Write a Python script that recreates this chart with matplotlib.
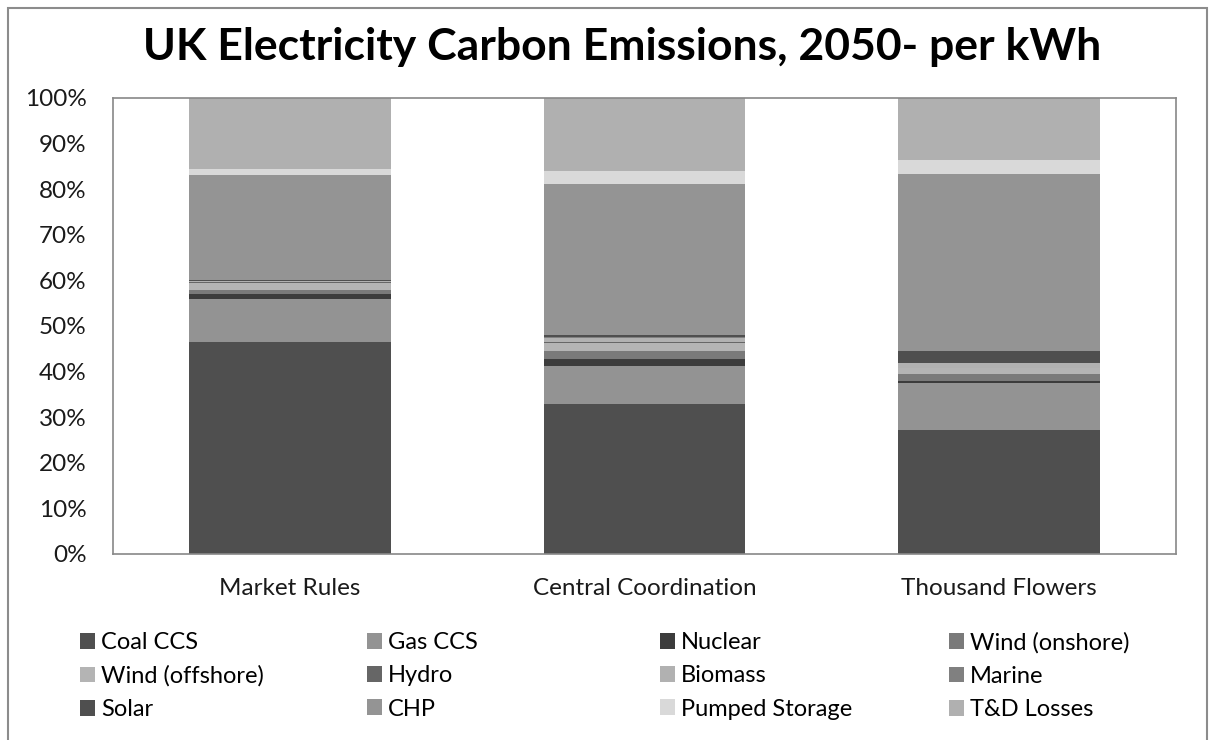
import matplotlib
matplotlib.use('Agg')
import matplotlib.pyplot as plt
from matplotlib.patches import Patch, Rectangle

plt.rcParams['font.family'] = ['Lato', 'DejaVu Sans']

scenarios = ['Market Rules', 'Central Coordination', 'Thousand Flowers']
sources = ['Coal CCS', 'Gas CCS', 'Nuclear', 'Wind (onshore)',
           'Wind (offshore)', 'Hydro', 'Biomass', 'Marine',
           'Solar', 'CHP', 'Pumped Storage', 'T&D Losses']

# share of emissions in %, one list per source (Market, Central, Thousand)
coal_ccs = [46.4, 33.0, 27.1]
gas_ccs = [9.5, 8.2, 10.5]
nuclear = [1.1, 1.6, 0.3]
wind_on = [0.9, 1.7, 1.5]
wind_off = [1.6, 1.8, 1.3]
hydro = [0.1, 0.2, 0.1]
biomass = [0.2, 0.8, 1.0]
marine = [0.1, 0.2, 0.0]
solar = [0.1, 0.5, 2.7]
chp = [23.2, 33.1, 38.9]
pumped = [1.2, 2.9, 3.1]
td_losses = [15.6, 16.0, 13.5]

series = [coal_ccs, gas_ccs, nuclear, wind_on, wind_off, hydro,
          biomass, marine, solar, chp, pumped, td_losses]
colors = ['#4f4f4f', '#939393', '#3c3c3c', '#7a7a7a', '#b4b4b4', '#666666',
          '#b1b1b1', '#808080', '#4f4f4f', '#949494', '#d9d9d9', '#b0b0b0']

fig = plt.figure(figsize=(12.1, 7.4), dpi=100)
ax = fig.add_axes([113/1210, 1-554/740, (1176-113)/1210, (554-98)/740])

x = list(range(len(scenarios)))
bottom = [0, 0, 0]
for vals, c in zip(series, colors):
    ax.bar(x, vals, width=0.57, bottom=bottom, color=c, edgecolor='none')
    bottom = [b+v for b, v in zip(bottom, vals)]

ax.set_xlim(-0.5, 2.5)
ax.set_ylim(0, 100)
ax.set_yticks(range(0, 101, 10))
ax.set_yticklabels(['%d%%' % t for t in range(0, 101, 10)])
ax.set_xticks(x)
ax.set_xticklabels(scenarios)
ax.tick_params(length=0, labelsize=17.5, colors='#1a1a1a')
ax.tick_params(axis='y', pad=19)
ax.tick_params(axis='x', pad=17)
for s in ax.spines.values():
    s.set_color('#888888')
    s.set_linewidth(1.2)

fig.text(622/1210, 1-47/740, 'UK Electricity Carbon Emissions, 2050- per kWh',
         ha='center', va='center', fontsize=32, fontweight='bold')

# legend: 4 columns, placed one by one so columns keep equal spacing
col_x = [80, 367, 660, 949]
for c in range(4):
    idx = [c, c+4, c+8]
    handles = [Patch(facecolor=colors[i], edgecolor='none') for i in idx]
    fig.legend(handles, [sources[i] for i in idx], loc='upper left',
               bbox_to_anchor=(col_x[c]/1210, 1-632/740), frameon=False,
               fontsize=17, handlelength=0.65, handleheight=0.65,
               handletextpad=0.25, labelspacing=0.52, borderpad=0,
               borderaxespad=0)

fig.patches.append(Rectangle((8/1210, -0.05), 1199/1210, 1.05-8/740,
                             transform=fig.transFigure, fill=False,
                             edgecolor='#8c8c8c', linewidth=1.5))

fig.savefig('out.png', dpi=100)
